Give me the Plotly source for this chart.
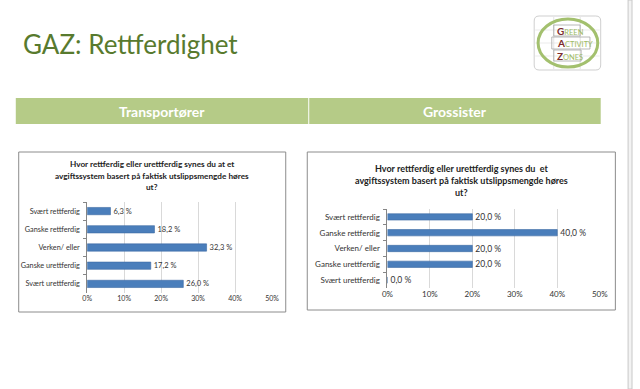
import plotly.graph_objects as go

# ---- data ----
categories = ["Svært rettferdig", "Ganske rettferdig", "Verken/ eller",
              "Ganske urettferdig", "Svært urettferdig"]
transport_values = [6.3, 18.2, 32.3, 17.2, 26.0]
grossist_values = [20.0, 40.0, 20.0, 20.0, 0.0]
tick_values = [0, 10, 20, 30, 40, 50]
tick_labels = ["0%", "10%", "20%", "30%", "40%", "50%"]
page_title = "GAZ: Rettferdighet"
headers = ["Transportører", "Grossister"]
title_left = ["Hvor rettferdig eller urettferdig synes du at et",
              "avgiftssystem basert på faktisk utslippsmengde høres", "ut?"]
title_right = ["Hvor rettferdig eller urettferdig synes du  et",
               "avgiftssystem basert på faktisk utslippsmengde høres", "ut?"]

W, H = 640, 389
FONT = "Lato"


def X(px):
    return px / W


def Y(py):
    return 1 - py / H


def fmt(v):
    return f"{v:.1f}".replace(".", ",") + " %"


BAR = "#4A7EBB"
fig = go.Figure()

fig.add_trace(go.Bar(
    x=transport_values, y=categories, orientation="h",
    marker=dict(color=BAR, line=dict(color="#3C6AA3", width=0.6)),
    text=[fmt(v) for v in transport_values], textposition="outside",
    constraintext="none",
    textfont=dict(size=7.5, color="#333333", family=FONT),
    cliponaxis=False, xaxis="x", yaxis="y", hoverinfo="skip"))

fig.add_trace(go.Bar(
    x=grossist_values, y=categories, orientation="h",
    marker=dict(color=BAR, line=dict(color="#3C6AA3", width=0.6)),
    text=[fmt(v) for v in grossist_values], textposition="outside",
    constraintext="none",
    textfont=dict(size=8.5, color="#333333", family=FONT),
    cliponaxis=False, xaxis="x2", yaxis="y2", hoverinfo="skip"))


def xax(domain, size):
    return dict(domain=domain, range=[0, 50], tickvals=tick_values,
                ticktext=tick_labels, showgrid=True, gridcolor="#D9D9D9",
                gridwidth=1, zeroline=False, showline=False, ticks="",
                tickfont=dict(size=size, color="#333333", family=FONT),
                fixedrange=True)


def yax(domain, anchor, size):
    return dict(domain=domain, anchor=anchor, autorange="reversed",
                showline=True, linecolor="#868686", linewidth=1,
                ticks="outside", ticklen=3, tickcolor="#868686",
                tickson="boundaries", showgrid=False, ticklabelstandoff=5,
                tickfont=dict(size=size, color="#333333", family=FONT),
                fixedrange=True)


fig.update_layout(
    width=W, height=H, margin=dict(l=0, r=0, t=0, b=0),
    paper_bgcolor="white", plot_bgcolor="white", showlegend=False,
    bargap=0.6,
    font=dict(family=FONT),
    xaxis=dict(xax([X(83), X(272)], 7), anchor="y"),
    yaxis=yax([Y(293), Y(202)], "x", 7.3),
    xaxis2=dict(xax([X(390), X(607)], 8), anchor="y2"),
    yaxis2=yax([Y(288), Y(209)], "x2", 8),
)

shapes = []
annotations = []

# scrollbar strip on right
shapes.append(dict(type="rect", xref="paper", yref="paper",
                   x0=X(636), x1=X(640), y0=0, y1=1,
                   fillcolor="#F3F3F3", line=dict(color="#C8C8C8", width=1)))

# page title
annotations.append(dict(text=page_title, xref="paper", yref="paper",
                        x=X(15), y=Y(44), xanchor="left", yanchor="middle",
                        showarrow=False,
                        font=dict(size=26, color="#587A2E", family=FONT)))

# header bar
shapes.append(dict(type="rect", xref="paper", yref="paper",
                   x0=X(10), x1=X(309), y0=Y(124), y1=Y(98),
                   fillcolor="#B5CB87", line=dict(width=0)))
shapes.append(dict(type="rect", xref="paper", yref="paper",
                   x0=X(310), x1=X(608), y0=Y(124), y1=Y(98),
                   fillcolor="#B5CB87", line=dict(width=0)))
for txt, cx in zip(headers, [159.5, 459]):
    annotations.append(dict(text=f"<b>{txt}</b>", xref="paper", yref="paper",
                            x=X(cx), y=Y(111), xanchor="center",
                            yanchor="middle", showarrow=False,
                            font=dict(size=14, color="white", family=FONT)))

# chart boxes
shapes.append(dict(type="rect", xref="paper", yref="paper",
                   x0=X(13), x1=X(286), y0=Y(312), y1=Y(152),
                   line=dict(color="#8C8C8C", width=1)))
shapes.append(dict(type="rect", xref="paper", yref="paper",
                   x0=X(308), x1=X(623), y0=Y(310), y1=Y(152),
                   line=dict(color="#8C8C8C", width=1)))

# chart titles
for lines, cx, ys, size in [(title_left, 149, [164, 176, 187.5], 8.2),
                            (title_right, 466, [168, 180, 192], 9)]:
    for line, yy in zip(lines, ys):
        annotations.append(dict(text=f"<b>{line}</b>", xref="paper",
                                yref="paper", x=X(cx), y=Y(yy),
                                xanchor="center", yanchor="middle",
                                showarrow=False,
                                font=dict(size=size, color="#222222",
                                          family=FONT)))

# logo
x0, x1, y0, y1, r = 540, 608, 16, 70, 5
path = (f"M {X(x0 + r)},{Y(y0)} L {X(x1 - r)},{Y(y0)} "
        f"Q {X(x1)},{Y(y0)} {X(x1)},{Y(y0 + r)} L {X(x1)},{Y(y1 - r)} "
        f"Q {X(x1)},{Y(y1)} {X(x1 - r)},{Y(y1)} L {X(x0 + r)},{Y(y1)} "
        f"Q {X(x0)},{Y(y1)} {X(x0)},{Y(y1 - r)} L {X(x0)},{Y(y0 + r)} "
        f"Q {X(x0)},{Y(y0)} {X(x0 + r)},{Y(y0)} Z")
shapes.append(dict(type="path", xref="paper", yref="paper", path=path,
                   fillcolor="white", line=dict(color="#CFCFCF", width=1)))
for gy in [30, 43, 56]:
    shapes.append(dict(type="line", xref="paper", yref="paper",
                       x0=X(541), x1=X(607), y0=Y(gy), y1=Y(gy),
                       line=dict(color="#EBEBEB", width=1)))
for gx in [560, 587]:
    shapes.append(dict(type="line", xref="paper", yref="paper",
                       x0=X(gx), x1=X(gx), y0=Y(17), y1=Y(69),
                       line=dict(color="#E3E3E3", width=1)))
for bx0, bx1, by0, by1 in [(560, 587, 25, 36), (558, 597, 37, 49),
                           (560, 588, 50, 61)]:
    shapes.append(dict(type="rect", xref="paper", yref="paper",
                       x0=X(bx0), x1=X(bx1), y0=Y(by1), y1=Y(by0),
                       line=dict(color="#A6A6A6", width=0.8)))
shapes.append(dict(type="circle", xref="paper", yref="paper",
                   x0=X(544), x1=X(605), y0=Y(67), y1=Y(19),
                   line=dict(color="#A3C06E", width=3)))
for first, rest, yy in [("G", "REEN", 30.5), ("A", "CTIVITY", 43),
                        ("Z", "ONES", 55.5)]:
    annotations.append(dict(
        text=(f"<span style='color:#7B2B2B;font-size:10px'><b>{first}</b></span>"
              f"<span style='color:#9DBB63;font-size:7.5px'>{rest}</span>"),
        xref="paper", yref="paper", x=X(561), y=Y(yy), xanchor="left",
        yanchor="middle", showarrow=False, font=dict(family=FONT, size=7)))

fig.update_layout(shapes=shapes, annotations=annotations)
fig.write_html("out.html", config={"displayModeBar": False},
               post_script="document.body.style.margin='0';")
